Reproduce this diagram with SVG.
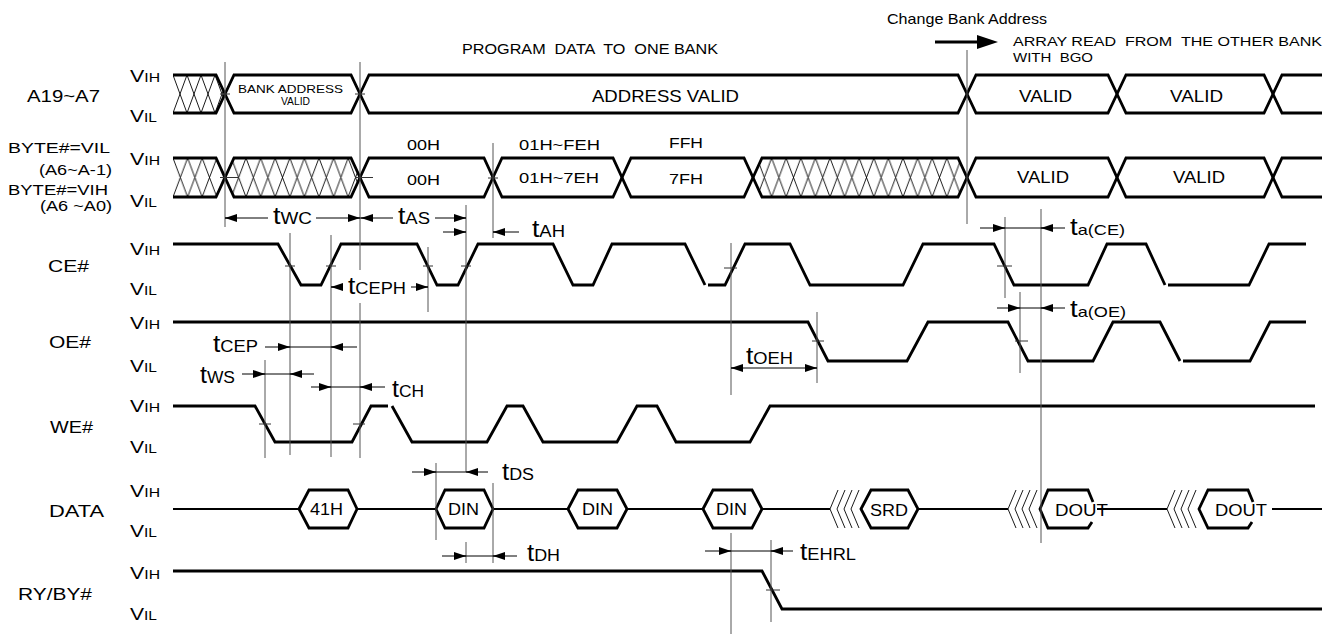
<svg xmlns="http://www.w3.org/2000/svg" width="1327" height="636" viewBox="0 0 1327 636">
<style>
text{font-family:"Liberation Sans",Arial,Helvetica,sans-serif;fill:#000}
.w{fill:none;stroke:#000;stroke-width:2.8;stroke-linejoin:miter}
.wd{fill:none;stroke:#000;stroke-width:2.2}
.ht{fill:none;stroke:#000;stroke-width:0.9}
.g{stroke:#555;stroke-width:1;fill:none}
.tk{stroke:#333;stroke-width:1;fill:none}
.d{stroke:#000;stroke-width:1;fill:none}
.ah{stroke:#000;stroke-width:1;fill:none;marker-end:url(#ah)}
.f17{font-size:17px}
.f15{font-size:15.5px}
.f16{font-size:16px}
</style>
<defs>
<marker id="ah" viewBox="0 0 12 8" refX="12" refY="4" markerWidth="12" markerHeight="8" markerUnits="userSpaceOnUse" orient="auto"><path d="M0,0 L12,4 L0,8 Z" fill="#000"/></marker>
<pattern id="hatchA" patternUnits="userSpaceOnUse" x="173" y="75" width="14" height="38"><path d="M0,0 L14,38 M14,0 L0,38" stroke="#000" stroke-width="0.9" fill="none"/></pattern>
<pattern id="hatchB" patternUnits="userSpaceOnUse" x="173" y="158" width="14.6" height="39"><path d="M0,0 L14.6,39 M14.6,0 L0,39" stroke="#000" stroke-width="0.9" fill="none"/></pattern>
</defs>
<rect x="0" y="0" width="1327" height="636" fill="#fff"/>

<!-- header texts -->
<g id="header">
<text x="887" y="24" font-size="14.5" textLength="160" lengthAdjust="spacingAndGlyphs">Change Bank Address</text>
<line x1="935" y1="42" x2="980" y2="42" stroke="#000" stroke-width="3"/>
<polygon points="977,35 998,42 977,49" fill="#000"/>
<text x="462" y="54" font-size="15" textLength="256" lengthAdjust="spacingAndGlyphs" xml:space="preserve">PROGRAM  DATA  TO  ONE BANK</text>
<text x="1013" y="46" font-size="13" textLength="309" lengthAdjust="spacingAndGlyphs" xml:space="preserve">ARRAY READ  FROM  THE OTHER BANK</text>
<text x="1013" y="62" font-size="13" textLength="80" lengthAdjust="spacingAndGlyphs" xml:space="preserve">WITH  BGO</text>
</g>

<!-- left labels -->
<g id="labels">
<text class="f17" x="27" y="102" textLength="73" lengthAdjust="spacingAndGlyphs">A19~A7</text>
<text class="f15" x="8" y="153" textLength="102" lengthAdjust="spacingAndGlyphs">BYTE#=VIL</text>
<text class="f15" x="39" y="175" textLength="73" lengthAdjust="spacingAndGlyphs">(A6~A-1)</text>
<text class="f15" x="8" y="195" textLength="100" lengthAdjust="spacingAndGlyphs">BYTE#=VIH</text>
<text class="f15" x="40" y="211" textLength="72" lengthAdjust="spacingAndGlyphs">(A6 ~A0)</text>
<text class="f17" x="48" y="272" textLength="41" lengthAdjust="spacingAndGlyphs">CE#</text>
<text class="f17" x="49" y="348" textLength="42" lengthAdjust="spacingAndGlyphs">OE#</text>
<text class="f17" x="50" y="433" textLength="43" lengthAdjust="spacingAndGlyphs">WE#</text>
<text class="f17" x="49" y="517" textLength="55" lengthAdjust="spacingAndGlyphs">DATA</text>
<text class="f17" x="18" y="600" textLength="74" lengthAdjust="spacingAndGlyphs">RY/BY#</text>

<text x="130" y="82" textLength="30" lengthAdjust="spacingAndGlyphs"><tspan font-size="17">V</tspan><tspan font-size="12.5">IH</tspan></text>
<text x="130" y="122" textLength="27" lengthAdjust="spacingAndGlyphs"><tspan font-size="17">V</tspan><tspan font-size="12.5">IL</tspan></text>
<text x="130" y="165" textLength="30" lengthAdjust="spacingAndGlyphs"><tspan font-size="17">V</tspan><tspan font-size="12.5">IH</tspan></text>
<text x="130" y="207" textLength="27" lengthAdjust="spacingAndGlyphs"><tspan font-size="17">V</tspan><tspan font-size="12.5">IL</tspan></text>
<text x="130" y="255" textLength="30" lengthAdjust="spacingAndGlyphs"><tspan font-size="17">V</tspan><tspan font-size="12.5">IH</tspan></text>
<text x="130" y="295" textLength="27" lengthAdjust="spacingAndGlyphs"><tspan font-size="17">V</tspan><tspan font-size="12.5">IL</tspan></text>
<text x="130" y="329" textLength="30" lengthAdjust="spacingAndGlyphs"><tspan font-size="17">V</tspan><tspan font-size="12.5">IH</tspan></text>
<text x="130" y="372" textLength="27" lengthAdjust="spacingAndGlyphs"><tspan font-size="17">V</tspan><tspan font-size="12.5">IL</tspan></text>
<text x="130" y="412" textLength="30" lengthAdjust="spacingAndGlyphs"><tspan font-size="17">V</tspan><tspan font-size="12.5">IH</tspan></text>
<text x="130" y="453" textLength="27" lengthAdjust="spacingAndGlyphs"><tspan font-size="17">V</tspan><tspan font-size="12.5">IL</tspan></text>
<text x="130" y="497" textLength="30" lengthAdjust="spacingAndGlyphs"><tspan font-size="17">V</tspan><tspan font-size="12.5">IH</tspan></text>
<text x="130" y="537" textLength="27" lengthAdjust="spacingAndGlyphs"><tspan font-size="17">V</tspan><tspan font-size="12.5">IL</tspan></text>
<text x="130" y="579" textLength="30" lengthAdjust="spacingAndGlyphs"><tspan font-size="17">V</tspan><tspan font-size="12.5">IH</tspan></text>
<text x="130" y="620" textLength="27" lengthAdjust="spacingAndGlyphs"><tspan font-size="17">V</tspan><tspan font-size="12.5">IL</tspan></text>
</g>

<!-- A19~A7 bus -->
<g id="sig-a19-a7">
<path d="M173,75 L216,75 L225,94 L216,113 L173,113 Z" fill="url(#hatchA)"/>
<path class="w" d="M173,75 L216,75 L225,94 L216,113 L173,113"/>
<path class="w" d="M225,94 L234,75 L351,75 L360,94 L351,113 L234,113 Z"/>
<path class="w" d="M360,94 L369,75 L958,75 L967,94 L958,113 L369,113 Z"/>
<path class="w" d="M967,94 L976,75 L1108,75 L1117,94 L1108,113 L976,113 Z"/>
<path class="w" d="M1117,94 L1126,75 L1264,75 L1273,94 L1264,113 L1126,113 Z"/>
<path class="w" d="M1322,75 L1282,75 L1273,94 L1282,113 L1322,113"/>
<text x="238" y="93" font-size="11.5" textLength="105" lengthAdjust="spacingAndGlyphs">BANK ADDRESS</text>
<text x="281" y="105" font-size="11.5" textLength="29" lengthAdjust="spacingAndGlyphs">VALID</text>
<text class="f17" x="592" y="102" textLength="147" lengthAdjust="spacingAndGlyphs">ADDRESS VALID</text>
<text class="f17" x="1019" y="102" textLength="53" lengthAdjust="spacingAndGlyphs">VALID</text>
<text class="f17" x="1170" y="102" textLength="53" lengthAdjust="spacingAndGlyphs">VALID</text>
</g>

<!-- BYTE bus -->
<g id="sig-byte">
<path d="M173,158 L216,158 L225,177.5 L216,197 L173,197 Z" fill="url(#hatchB)"/>
<path d="M225,177.5 L234,158 L351,158 L360,177.5 L351,197 L234,197 Z" fill="url(#hatchB)"/>
<path d="M753,177.5 L762,158 L958,158 L967,177.5 L958,197 L762,197 Z" fill="url(#hatchB)"/>
<path class="w" d="M173,158 L216,158 L225,177.5 L216,197 L173,197"/>
<path class="w" d="M225,177.5 L234,158 L351,158 L360,177.5 L351,197 L234,197 Z"/>
<path class="w" d="M360,177.5 L369,158 L484,158 L493,177.5 L484,197 L369,197 Z"/>
<path class="w" d="M493,177.5 L502,158 L613,158 L622,177.5 L613,197 L502,197 Z"/>
<path class="w" d="M622,177.5 L631,158 L744,158 L753,177.5 L744,197 L631,197 Z"/>
<path class="w" d="M753,177.5 L762,158 L958,158 L967,177.5 L958,197 L762,197 Z"/>
<path class="w" d="M967,177.5 L976,158 L1108,158 L1117,177.5 L1108,197 L976,197 Z"/>
<path class="w" d="M1117,177.5 L1126,158 L1264,158 L1273,177.5 L1264,197 L1126,197 Z"/>
<path class="w" d="M1322,158 L1282,158 L1273,177.5 L1282,197 L1322,197"/>
<text class="f15" x="407" y="150" textLength="33" lengthAdjust="spacingAndGlyphs">00H</text>
<text class="f15" x="407" y="185" textLength="33" lengthAdjust="spacingAndGlyphs">00H</text>
<text class="f15" x="519" y="150" textLength="81" lengthAdjust="spacingAndGlyphs">01H~FEH</text>
<text class="f15" x="519" y="183" textLength="80" lengthAdjust="spacingAndGlyphs">01H~7EH</text>
<text class="f15" x="669" y="148" textLength="34" lengthAdjust="spacingAndGlyphs">FFH</text>
<text class="f15" x="669" y="184" textLength="34" lengthAdjust="spacingAndGlyphs">7FH</text>
<text class="f17" x="1017" y="183" textLength="52" lengthAdjust="spacingAndGlyphs">VALID</text>
<text class="f17" x="1173" y="183" textLength="52" lengthAdjust="spacingAndGlyphs">VALID</text>
</g>

<!-- CE# -->
<g id="sig-ce">
<path class="w" d="M173,244 L278,244 L301,285 L321,285 L341,244 L417,244 L437,285 L458,285 L478,244 L553,244 L573,285 L593,285 L612,244 L685,244 L705,285"/>
<path class="w" d="M708,285 L725,285 L745,244 L790,244 L810,285 L903,285 L923,244 L994,244 L1014,285 L1088,285 L1107,244 L1146,244 L1165,285"/>
<path class="w" d="M1168,285 L1249,285 L1269,244 L1306,244"/>
</g>

<!-- OE# -->
<g id="sig-oe">
<path class="w" d="M173,322 L808,322 L828,361 L907,361 L928,322 L1008,322 L1028,361 L1093,361 L1113,322 L1160,322 L1180,361"/>
<path class="w" d="M1183,361 L1250,361 L1270,322 L1306,322"/>
</g>

<!-- WE# -->
<g id="sig-we">
<path class="w" d="M173,406 L255,406 L275,442 L352,442 L371,406 L388,406"/>
<path class="w" d="M392,406 L412,442 L487,442 L507,406 L523,406 L543,442 L617,442 L637,406 L657,406 L676,442 L750,442 L770,406 L1315,406"/>
</g>

<!-- DATA -->
<g id="sig-data">
<path class="wd" d="M173,509 L299,509 M357,509 L436,509 M493,509 L568,509 M627,509 L703,509 M762,509 L830,509 M918,509 L1008,509 M1097,509 L1167,509 M1272,509 L1322,509"/>
<path class="w" d="M299,509 L309,490 L348,490 L357,509 L348,528 L309,528 Z"/>
<path class="w" d="M436,509 L445,490 L484,490 L493,509 L484,528 L445,528 Z"/>
<path class="w" d="M568,509 L578,490 L617,490 L627,509 L617,528 L578,528 Z"/>
<path class="w" d="M703,509 L713,490 L752,490 L762,509 L752,528 L713,528 Z"/>
<path class="ht" d="M838,490 L830,509 L838,528 M845,490 L837,509 L845,528 M852,490 L844,509 L852,528 M859,490 L851,509 L859,528"/>
<path class="w" d="M861,509 L871,490 L908,490 L918,509 L908,528 L871,528 Z"/>
<path class="ht" d="M1016,490 L1008,509 L1016,528 M1023,490 L1015,509 L1023,528 M1030,490 L1022,509 L1030,528 M1037,490 L1029,509 L1037,528"/>
<path class="w" d="M1093,502 L1088,490 L1048,490 L1040,509 L1048,528 L1088,528 L1092,522"/>
<path class="ht" d="M1175,490 L1167,509 L1175,528 M1182,490 L1174,509 L1182,528 M1189,490 L1181,509 L1189,528 M1196,490 L1188,509 L1196,528"/>
<path class="w" d="M1253,502 L1248,490 L1208,490 L1199,509 L1208,528 L1248,528 L1252,522"/>
<text class="f16" x="310" y="515" textLength="33" lengthAdjust="spacingAndGlyphs">41H</text>
<text class="f16" x="448" y="515" textLength="31" lengthAdjust="spacingAndGlyphs">DIN</text>
<text class="f16" x="582" y="515" textLength="31" lengthAdjust="spacingAndGlyphs">DIN</text>
<text class="f16" x="716" y="515" textLength="31" lengthAdjust="spacingAndGlyphs">DIN</text>
<text class="f16" x="870" y="516" textLength="38" lengthAdjust="spacingAndGlyphs">SRD</text>
<text class="f16" x="1055" y="516" textLength="53" lengthAdjust="spacingAndGlyphs">DOUT</text>
<text class="f16" x="1215" y="516" textLength="52" lengthAdjust="spacingAndGlyphs">DOUT</text>
</g>

<!-- RY/BY# -->
<g id="sig-ryby">
<path class="w" d="M173,571 L762,571 L782,609 L1322,609"/>
</g>

<!-- reference lines, ticks and timing arrows -->
<g id="connectors">
<path class="g" d="M225,62 V227 M360,62 V270 M360,303 V458 M466,205 V472 M493,143 V238 M493,483 V563 M466,542 V563 M436,463 V540 M265,360 V458 M290,233 V455 M331,235 V457 M428,247 V312 M731,243 V395 M731,533 V634 M817,312 V383 M771,540 V622 M967,50 V224 M1005,217 V298 M1020,292 V373 M1041,209 V543"/>
<path class="tk" d="M220,94 H230 M355,94 H365 M220,177.5 H238 M355,177.5 H373 M488,178 H498 M285,266 H295 M326,266 H336 M423,266 H433 M461,266 H471 M724,268 H737 M997,266 H1012 M812,341 H824 M1015,341 H1028 M259,424 H271 M353,424 H365 M766,590 H780"/>

<!-- tWC / tAS -->
<path class="d" d="M225,218 H268 M316,218 H360 M360,218 H393 M435,218 H466 M443,232 H466 M493,232 H519"/>
<path class="ah" d="M237,218 L225,218"/>
<path class="ah" d="M348,218 L360,218"/>
<path class="ah" d="M373,218 L361,218"/>
<path class="ah" d="M454,218 L466,218"/>
<path class="ah" d="M454,232 L466,232"/>
<path class="ah" d="M505,232 L493,232"/>
<!-- tCEPH -->
<path class="d" d="M331,287 H343 M411,287 H428"/>
<path class="ah" d="M343,287 L331,287"/>
<path class="ah" d="M416,287 L428,287"/>
<!-- tCEP -->
<path class="d" d="M265,347 H357"/>
<path class="ah" d="M278,347 L290,347"/>
<path class="ah" d="M343,347 L331,347"/>
<!-- tWS -->
<path class="d" d="M242,374 H314"/>
<path class="ah" d="M253,374 L265,374"/>
<path class="ah" d="M302,374 L290,374"/>
<!-- tCH -->
<path class="d" d="M311,387 H385"/>
<path class="ah" d="M319,387 L331,387"/>
<path class="ah" d="M372,387 L360,387"/>
<!-- tOEH -->
<path class="d" d="M731,368 H817"/>
<path class="ah" d="M743,368 L731,368"/>
<path class="ah" d="M805,368 L817,368"/>
<!-- ta(CE) -->
<path class="d" d="M980,228 H1065"/>
<path class="ah" d="M993,228 L1005,228"/>
<path class="ah" d="M1053,228 L1041,228"/>
<!-- ta(OE) -->
<path class="d" d="M997,308 H1065"/>
<path class="ah" d="M1008,308 L1020,308"/>
<path class="ah" d="M1053,308 L1041,308"/>
<!-- tDS -->
<path class="d" d="M412,472 H488"/>
<path class="ah" d="M424,472 L436,472"/>
<path class="ah" d="M478,472 L466,472"/>
<!-- tDH -->
<path class="d" d="M442,556 H517"/>
<path class="ah" d="M454,556 L466,556"/>
<path class="ah" d="M505,556 L493,556"/>
<!-- tEHRL -->
<path class="d" d="M705,551 H793"/>
<path class="ah" d="M719,551 L731,551"/>
<path class="ah" d="M783,551 L771,551"/>
</g>

<g id="timing-labels">
<text x="273" y="224" textLength="39" lengthAdjust="spacingAndGlyphs"><tspan font-size="23">t</tspan><tspan font-size="16">WC</tspan></text>
<text x="398" y="224" textLength="32" lengthAdjust="spacingAndGlyphs"><tspan font-size="23">t</tspan><tspan font-size="16">AS</tspan></text>
<text x="532" y="237" textLength="33" lengthAdjust="spacingAndGlyphs"><tspan font-size="23">t</tspan><tspan font-size="16">AH</tspan></text>
<text x="348" y="294" textLength="58" lengthAdjust="spacingAndGlyphs"><tspan font-size="23">t</tspan><tspan font-size="16">CEPH</tspan></text>
<text x="213" y="352" textLength="45" lengthAdjust="spacingAndGlyphs"><tspan font-size="23">t</tspan><tspan font-size="16">CEP</tspan></text>
<text x="200" y="383" textLength="35" lengthAdjust="spacingAndGlyphs"><tspan font-size="23">t</tspan><tspan font-size="16">WS</tspan></text>
<text x="392" y="397" textLength="32" lengthAdjust="spacingAndGlyphs"><tspan font-size="23">t</tspan><tspan font-size="16">CH</tspan></text>
<text x="746" y="364" textLength="47" lengthAdjust="spacingAndGlyphs"><tspan font-size="23">t</tspan><tspan font-size="16">OEH</tspan></text>
<text x="1070" y="235" textLength="55" lengthAdjust="spacingAndGlyphs"><tspan font-size="23">t</tspan><tspan font-size="15">a(CE)</tspan></text>
<text x="1070" y="317" textLength="56" lengthAdjust="spacingAndGlyphs"><tspan font-size="23">t</tspan><tspan font-size="15">a(OE)</tspan></text>
<text x="502" y="480" textLength="32" lengthAdjust="spacingAndGlyphs"><tspan font-size="23">t</tspan><tspan font-size="16">DS</tspan></text>
<text x="527" y="561" textLength="33" lengthAdjust="spacingAndGlyphs"><tspan font-size="23">t</tspan><tspan font-size="16">DH</tspan></text>
<text x="800" y="560" textLength="56" lengthAdjust="spacingAndGlyphs"><tspan font-size="23">t</tspan><tspan font-size="16">EHRL</tspan></text>
</g>
</svg>
